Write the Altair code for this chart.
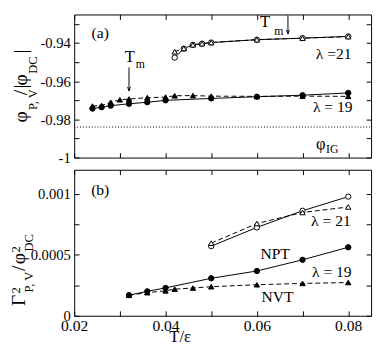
import altair as alt
import pandas as pd

# ---------------- data ----------------
# panel (a): phi_{P,V}/|phi_DC|
T19_npt_a = [0.024, 0.026, 0.028, 0.032, 0.036, 0.040, 0.050, 0.060, 0.070, 0.080]
phi19_npt = [-0.9743, -0.9736, -0.9728, -0.9718, -0.9710, -0.9700, -0.9690, -0.9681, -0.9673, -0.9661]
T19_nvt_a = [0.024, 0.026, 0.028, 0.030, 0.032, 0.036, 0.040, 0.042, 0.046, 0.050, 0.060, 0.070, 0.080]
phi19_nvt = [-0.9730, -0.9727, -0.9710, -0.9697, -0.9693, -0.9686, -0.9683, -0.9676, -0.9675, -0.9678, -0.9679, -0.9678, -0.9679]
T21_a = [0.042, 0.044, 0.046, 0.048, 0.050, 0.060, 0.070, 0.080]
phi21_npt = [-0.9476, -0.9429, -0.9409, -0.9403, -0.9397, -0.9382, -0.9374, -0.9365]
phi21_nvt = [-0.9445, -0.9428, -0.9409, -0.9403, -0.9397, -0.9382, -0.9374, -0.9366]
phi_IG = -0.984

# panel (b): Gamma^2_{P,V}/phi^2_DC
T19_npt_b = [0.032, 0.036, 0.040, 0.050, 0.060, 0.070, 0.080]
g19_npt = [0.000169, 0.000201, 0.000229, 0.000308, 0.000368, 0.000460, 0.000563]
T19_nvt_b = [0.032, 0.036, 0.040, 0.042, 0.046, 0.050, 0.060, 0.070, 0.080]
g19_nvt = [0.000169, 0.000190, 0.000205, 0.000219, 0.000228, 0.000239, 0.000255, 0.000266, 0.000273]
T21_b = [0.050, 0.060, 0.070, 0.080]
g21_npt = [0.000572, 0.000726, 0.000863, 0.000979]
g21_nvt = [0.000597, 0.000758, 0.000849, 0.000894]

x_ticks = [0.02, 0.03, 0.04, 0.05, 0.06, 0.07, 0.08]
ya_ticks = [-1.0, -0.99, -0.98, -0.97, -0.96, -0.95, -0.94, -0.93]
yb_ticks = [0.0, 0.00025, 0.0005, 0.00075, 0.001]

# ---------------- styling ----------------
FONT = "Liberation Serif"
W, H1, H2 = 305, 147, 150
xs = alt.Scale(domain=[0.02, 0.085], nice=False, zero=False)
yas = alt.Scale(domain=[-1.0, -0.925], nice=False, zero=False)
ybs = alt.Scale(domain=[0.0, 0.0012], nice=False, zero=False)
one = pd.DataFrame({"a": [0]})


def ax(orient, values, labels=False, expr=None, size=15, pad=4):
    kw = dict(orient=orient, values=values, offset=-5, tickSize=5, domain=False,
              grid=False, title=None, tickColor="black", tickWidth=1, labels=labels,
              minExtent=0)
    if labels:
        kw.update(labelExpr=expr, labelFont=FONT, labelFontSize=size, labelColor="black",
                  labelPadding=pad, labelFlush=False, labelOverlap=False)
    return alt.Axis(**kw)


x_lab_expr = "round(datum.value*100) % 2 == 0 ? format(datum.value, '.2f') : ''"
ya_lab_expr = ("round(datum.value*100) % 2 == 0 ? (datum.value <= -0.995 ? '-1' : "
               "'-0.' + round(-datum.value*100)) : ''")
yb_lab_expr = ("round(datum.value*4000) % 2 == 0 ? (datum.value == 0 ? '0' : "
               "format(datum.value, '~g')) : ''")


def series(T, V, ys, dash=None, shape="circle", filled=True, xaxis=None, yaxis=None):
    df = pd.DataFrame({"T": T, "v": V})
    enc = dict(x=alt.X("T:Q", scale=xs, axis=xaxis),
               y=alt.Y("v:Q", scale=ys, axis=yaxis))
    lkw = dict(color="black", strokeWidth=1)
    if dash:
        lkw["strokeDash"] = dash
    line = alt.Chart(df).mark_line(**lkw).encode(**enc)
    pts = alt.Chart(df).mark_point(shape=shape, filled=True, size=30,
                                   fill="black" if filled else "white",
                                   stroke="black", strokeWidth=1, opacity=1).encode(
        x=alt.X("T:Q", scale=xs, axis=None), y=alt.Y("v:Q", scale=ys, axis=None))
    return line, pts


def note(s, x, y, ys, size=16, **kw):
    df = pd.DataFrame({"x": [x], "y": [y]})
    return alt.Chart(df).mark_text(text=s, font=FONT, fontSize=size, color="black", **kw).encode(
        x=alt.X("x:Q", scale=xs, axis=None), y=alt.Y("y:Q", scale=ys, axis=None))


def ptxt(s, x, y, size=20, angle=270, align="left", baseline="alphabetic"):
    return alt.Chart(one).mark_text(text=s, font=FONT, fontSize=size, color="black",
                                    angle=angle, align=align, baseline=baseline).encode(
        x=alt.value(x), y=alt.value(y))


def arrow(x, y1, y2, ys):
    df = pd.DataFrame({"x": [x], "y1": [y1], "y2": [y2]})
    r = alt.Chart(df).mark_rule(color="black", strokeWidth=1).encode(
        x=alt.X("x:Q", scale=xs, axis=None), y=alt.Y("y1:Q", scale=ys, axis=None), y2="y2:Q")
    h = alt.Chart(df).mark_point(shape="M-0.35,-1L0,0L0.35,-1", filled=False, size=70,
                                 stroke="black", strokeWidth=1, opacity=1).encode(
        x=alt.X("x:Q", scale=xs, axis=None), y=alt.Y("y2:Q", scale=ys, axis=None))
    return r, h


anchor = alt.Chart(one).mark_rule(color="white", strokeWidth=1).encode(
    x=alt.value(-66.5), y=alt.value(20), y2=alt.value(21))

# ---------------- panel (a) ----------------
ig = alt.Chart(pd.DataFrame({"T": [0.02, 0.085], "v": [phi_IG, phi_IG]})).mark_line(
    color="black", strokeWidth=1, strokeDash=[1, 2]).encode(
    x=alt.X("T:Q", scale=xs, axis=ax("top", x_ticks)),
    y=alt.Y("v:Q", scale=yas, axis=ax("right", ya_ticks)))

l19n, p19n = series(T19_npt_a, phi19_npt, yas, xaxis=ax("bottom", x_ticks),
                    yaxis=ax("left", ya_ticks, True, ya_lab_expr, size=15, pad=4))
l19v, p19v = series(T19_nvt_a, phi19_nvt, yas, dash=[5, 3], shape="triangle-up")
l21n, p21n = series(T21_a, phi21_npt, yas, filled=False)
l21v, p21v = series(T21_a, phi21_nvt, yas, dash=[5, 3], shape="triangle-up", filled=False)

a1r, a1h = arrow(0.032, -0.9527, -0.9651, yas)
a2r, a2h = arrow(0.0668, -0.9255, -0.9352, yas)

panel_a = alt.layer(
    ig, l19n, l19v, l21n, l21v, p19n, p19v, p21n, p21v,
    a1r, a1h, a2r, a2h,
    note("(a)", 0.0257, -0.9349, yas, baseline="middle"),
    note("T", 0.0322, -0.9475, yas, size=17, baseline="middle"),
    note("m", 0.0345, -0.9508, yas, size=12, baseline="middle"),
    note("T", 0.0618, -0.9292, yas, size=17, baseline="middle"),
    note("m", 0.0648, -0.9338, yas, size=12, baseline="middle"),
    note("λ =21", 0.0768, -0.9458, yas, baseline="middle"),
    note("λ = 19", 0.0766, -0.9736, yas, baseline="middle"),
    note("φ", 0.0740, -0.9929, yas, size=17, baseline="middle"),
    note("IG", 0.0765, -0.9956, yas, size=12, baseline="middle"),
    anchor,
    ptxt("φ", -48, 111),
    ptxt("P, V", -38, 98, size=13),
    ptxt("/", -48, 83),
    ptxt("|", -48, 76),
    ptxt("φ", -48, 73),
    ptxt("DC", -38, 61, size=13),
    ptxt("|", -48, 40),
).resolve_axis(x="independent", y="independent").properties(width=W, height=H1)

# ---------------- panel (b) ----------------
top_ticks_b = alt.Chart(pd.DataFrame({"T": [0.02], "v": [0.0]})).mark_point(opacity=0).encode(
    x=alt.X("T:Q", scale=xs, axis=ax("top", x_ticks)),
    y=alt.Y("v:Q", scale=ybs, axis=ax("right", yb_ticks)))

m19n, q19n = series(T19_npt_b, g19_npt, ybs,
                    xaxis=ax("bottom", x_ticks, True, x_lab_expr, size=16, pad=2),
                    yaxis=ax("left", yb_ticks, True, yb_lab_expr, size=15, pad=4))
m19v, q19v = series(T19_nvt_b, g19_nvt, ybs, dash=[5, 3], shape="triangle-up")
m21n, q21n = series(T21_b, g21_npt, ybs, filled=False)
m21v, q21v = series(T21_b, g21_nvt, ybs, dash=[5, 3], shape="triangle-up", filled=False)

xtitle = alt.Chart(pd.DataFrame({"x": [0.0432]})).mark_text(
    text="T/ε", font=FONT, fontSize=17, color="black", baseline="middle").encode(
    x=alt.X("x:Q", scale=xs, axis=None), y=alt.value(H2 + 22))

panel_b = alt.layer(
    top_ticks_b, m19n, m19v, m21n, m21v, q19n, q19v, q21n, q21v,
    note("(b)", 0.0257, 0.001031, ybs, baseline="middle"),
    note("λ = 21", 0.0762, 0.000780, ybs, baseline="middle"),
    note("NPT", 0.0640, 0.000503, ybs, baseline="middle"),
    note("λ = 19", 0.0764, 0.000361, ybs, baseline="middle"),
    note("NVT", 0.0645, 0.000156, ybs, baseline="middle"),
    xtitle,
    anchor,
    ptxt("Γ", -51, 140),
    ptxt("2", -56, 127, size=13),
    ptxt("P, V", -42, 126, size=13),
    ptxt("/", -51, 104),
    ptxt("φ", -51, 97),
    ptxt("2", -56, 85, size=13),
    ptxt("DC", -42, 84, size=13),
).resolve_axis(x="independent", y="independent").properties(width=W, height=H2)

chart = alt.vconcat(panel_a, panel_b, spacing=2.5).properties(padding=0).configure_view(
    stroke="black", strokeWidth=1).configure_axis(labelFont=FONT)

chart.save("out.html", embed_options={"renderer": "svg", "actions": False})
